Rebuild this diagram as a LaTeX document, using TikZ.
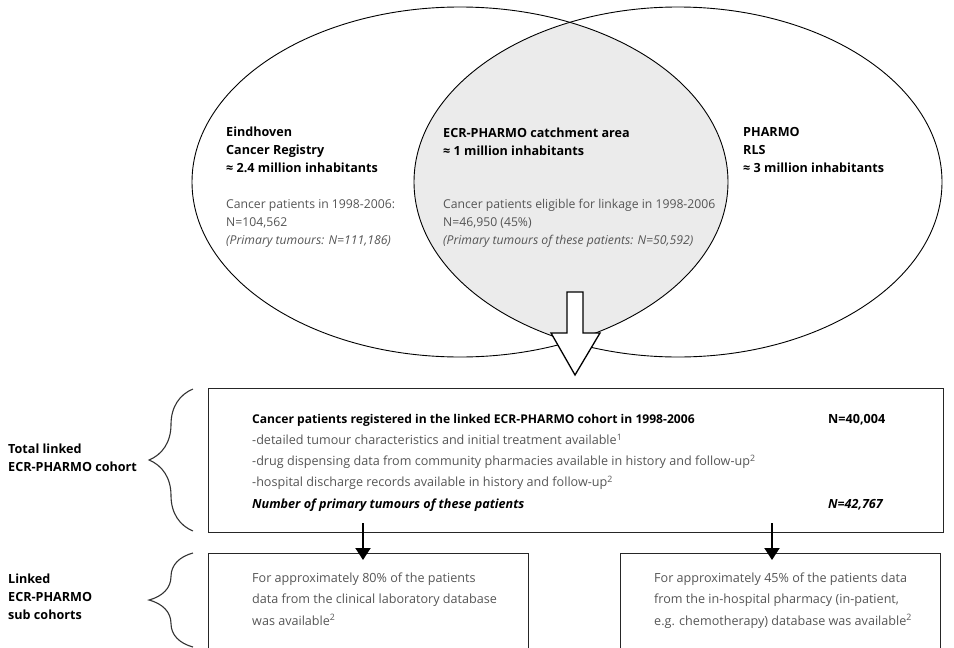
\documentclass[tikz,border=0pt]{standalone}
\usepackage{fontspec}
\setmainfont{Open Sans}
\usetikzlibrary{arrows.meta,decorations.pathreplacing}
\definecolor{txtgray}{HTML}{555555}
\definecolor{areagray}{HTML}{EBEBEB}
\begin{document}
\begin{tikzpicture}[x=1pt, y=-1pt,
    main/.style = {inner sep=0pt, anchor=base west, align=left, font=\fontsize{12.6}{18}\selectfont},
    head/.style = {main, font=\fontsize{12.6}{17.6}\selectfont\bfseries},
    grey/.style = {main, text=txtgray, font=\fontsize{12.2}{18}\selectfont},
    boxtxt/.style = {main, font=\fontsize{12.6}{21.2}\selectfont},
    box/.style = {draw=black!85, line width=1.1pt, rectangle, anchor=north west, inner sep=0pt},
    brace/.style = {decorate, decoration={brace, amplitude=44pt}, draw=black!80, line width=1.1pt},
    link/.style = {line width=2pt, -{Triangle[width=15pt,length=12pt]}}]
  \useasboundingbox (0,0) rectangle (954,648);
  \clip (0,0) rectangle (954,648);

  % the two areas and their overlap
  \begin{scope}
    \clip (678,182) ellipse [x radius=264pt, y radius=175pt];
    \fill[areagray] (460,182) ellipse [x radius=268pt, y radius=175pt];
  \end{scope}
  \draw[line width=0.9pt] (460,182) ellipse [x radius=268pt, y radius=175pt];
  \draw[line width=0.9pt] (678,182) ellipse [x radius=264pt, y radius=175pt];

  % (multi-line nodes sit on the baseline of their last line)
  \node[head] (ecr) at (226,172) {Eindhoven\\Cancer Registry\\≈ 2.4 million inhabitants};
  \node[grey] (ecrn) at (226,244) {Cancer patients in 1998-2006:\\N=104,562\\\textit{(Primary tumours: N=111,186)}};
  \node[head] (area) at (443,155) {ECR-PHARMO catchment area\\≈ 1 million inhabitants};
  \node[grey] (arean) at (443,244) {Cancer patients eligible for linkage in 1998-2006\\N=46,950 (45\%)\\\textit{(Primary tumours of these patients: N=50,592)}};
  \node[head] (rls) at (743,172) {PHARMO\\RLS\\≈ 3 million inhabitants};

  % big arrow
  \draw[line width=1.3pt, fill=white] (567,292) -- (583,292) -- (583,333) -- (600,333)
    -- (575,375) -- (551,333) -- (567,333) -- cycle;

  % boxes
  \node[box, minimum width=735pt, minimum height=144pt] (cohort) at (208,388) {};
  \node[box, minimum width=320pt, minimum height=110pt] (lab) at (208,553) {};
  \node[box, minimum width=320pt, minimum height=110pt] (pharm) at (620,553) {};

  \node[boxtxt] (cohorttxt) at (252,508) {\fontsize{12.1}{21.2}\selectfont\textbf{Cancer patients registered in the linked ECR-PHARMO cohort in 1998-2006}\\
    \textcolor{txtgray}{-detailed tumour characteristics and initial treatment available\textsuperscript{1}}\\
    \textcolor{txtgray}{-drug dispensing data from community pharmacies available in history and follow-up\textsuperscript{2}}\\
    \textcolor{txtgray}{-hospital discharge records available in history and follow-up\textsuperscript{2}}\\
    \textbf{\textit{Number of primary tumours of these patients}}};
  \node[head] (n1) at (828,423) {N=40,004};
  \node[head, font=\fontsize{12.6}{18}\selectfont\bfseries\itshape] (n2) at (828,508) {N=42,767};

  \node[boxtxt, text=txtgray] (labtxt) at (252,625) {For approximately 80\% of the patients\\data from the clinical laboratory database\\was available\textsuperscript{2}};
  \node[boxtxt, text=txtgray] (pharmtxt) at (654,625) {For approximately 45\% of the patients data\\from the in-hospital pharmacy (in-patient,\\e.g. chemotherapy) database was available\textsuperscript{2}};

  \coordinate (a1) at (363,523);
  \coordinate (b1) at (363,560);
  \coordinate (a2) at (772,523);
  \coordinate (b2) at (772,560);
  \draw[link] (a1) -- (b1);
  \draw[link] (a2) -- (b2);

  % braces and their labels
  \draw[brace] (193,531) -- (193,389);
  \draw[brace] (193,647) -- (193,553);
  \node[head] (total) at (8,471) {Total linked\\ECR-PHARMO cohort};
  \node[head] (sub) at (8,619) {Linked\\ECR-PHARMO\\sub cohorts};
\end{tikzpicture}
\end{document}
